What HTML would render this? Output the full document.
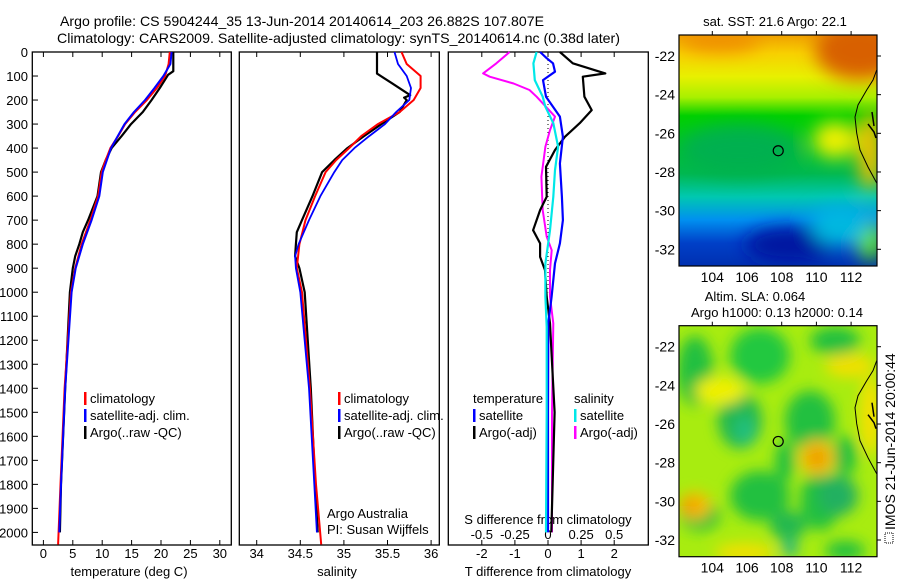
<!DOCTYPE html>
<html><head><meta charset="utf-8"><style>
html,body{margin:0;padding:0;background:#fff;}
svg{display:block;font-family:"Liberation Sans",sans-serif;}
</style></head><body>
<svg id="chart" width="900" height="580" viewBox="0 0 900 580" xmlns="http://www.w3.org/2000/svg">
<defs>
<filter id="bl1" x="-50%" y="-50%" width="200%" height="200%"><feGaussianBlur stdDeviation="9"/></filter>
<filter id="bl2" x="-50%" y="-50%" width="200%" height="200%"><feGaussianBlur stdDeviation="7"/></filter>
<clipPath id="m1c"><rect x="679" y="35" width="198" height="231"/></clipPath>
<clipPath id="m2c"><rect x="679" y="325.7" width="198" height="231"/></clipPath>
<linearGradient id="sstg" x1="0" y1="0" x2="0" y2="1">
<stop offset="0" stop-color="#f0a000"/><stop offset="0.08" stop-color="#f8d000"/><stop offset="0.18" stop-color="#e8f000"/>
<stop offset="0.27" stop-color="#a8f000"/><stop offset="0.35" stop-color="#00d000"/><stop offset="0.6" stop-color="#00b850"/>
<stop offset="0.7" stop-color="#00c8b0"/><stop offset="0.8" stop-color="#0090f0"/><stop offset="0.9" stop-color="#0040c8"/><stop offset="1" stop-color="#0030b0"/>
</linearGradient>
</defs>
<g id="title" font-size="14" fill="#000">
<text x="60" y="26" textLength="484" lengthAdjust="spacingAndGlyphs">Argo profile: CS 5904244_35 13-Jun-2014 20140614_203 26.882S 107.807E</text>
<text x="57" y="43" textLength="563" lengthAdjust="spacingAndGlyphs">Climatology: CARS2009. Satellite-adjusted climatology: synTS_20140614.nc (0.38d later)</text>
</g>
<g id="plots"></g>
<g id="maps"></g>
</svg>
<script>
// ---------- data ----------
const depthLabels = [0,100,200,300,400,500,600,700,800,900,1000,1100,1200,1300,1400,1500,1600,1700,1800,1900,2000];
const tempTicks = [0,5,10,15,20,25,30];
const salTicks = [34,34.5,35,35.5,36];
const salTickLabels = ["34","34.5","35","35.5","36"];
const tdiffTicks = [-2,-1,0,1,2];
const sdiffTicks = [-0.5,-0.25,0,0.25,0.5];
const sdiffTickLabels = ["-0.5","-0.25","0","0.25","0.5"];

const tClimDepth = [0,50,100,150,200,250,300,350,400,450,500,600,700,800,900,1000,1400,1800,2050];
const tClim = [21.5,21.3,20.7,19.3,17.6,15.6,13.9,12.7,11.4,10.6,9.9,9.3,8.0,6.5,5.4,4.7,3.6,2.9,2.5];
const tSatDepth = [0,50,100,150,200,250,300,400,500,600,700,800,900,1000,1400,1800,2000];
const tSat = [21.8,21.6,20.4,18.9,17.3,15.4,13.8,11.5,10.1,9.5,8.2,6.7,5.5,4.8,3.7,3.0,2.7];
const tArgoDepth = [0,80,95,150,200,250,300,350,400,450,500,600,700,750,800,850,900,1000,1400,1800,2000];
const tArgo = [22.1,22.1,21.2,19.8,18.4,16.9,14.9,13.3,11.6,10.6,9.8,9.2,7.6,6.7,6.1,5.4,5.0,4.5,3.7,3.0,2.8];

const sClimDepth = [0,50,100,150,200,250,300,350,400,450,500,600,700,800,900,1000,1400,1800,2050];
const sClim = [35.66,35.72,35.88,35.88,35.80,35.64,35.39,35.20,35.06,34.91,34.79,34.67,34.56,34.49,34.46,34.52,34.61,34.68,34.74];
const sSatDepth = [0,50,100,150,200,250,300,350,400,450,500,600,700,800,850,900,1000,1400,1800,2000];
const sSat = [35.58,35.62,35.72,35.77,35.75,35.60,35.47,35.29,35.12,34.98,34.89,34.73,34.60,34.48,34.44,34.45,34.50,34.60,34.66,34.69];
const sArgoDepth = [0,90,130,180,190,200,250,300,350,400,450,500,600,700,750,800,850,900,1000,1400,1800,2000];
const sArgo = [35.38,35.38,35.55,35.76,35.69,35.72,35.64,35.43,35.23,35.04,34.89,34.75,34.64,34.52,34.46,34.45,34.44,34.49,34.55,34.62,34.67,34.70];

const dTSatDepth = [0,26,47,82,117,186,269,353,464,603,700,797,880,1019,1130,1500,2000];
const dTSat = [-0.24,-0.04,0.15,0.21,-0.15,-0.06,0.36,0.45,0.36,0.42,0.45,0.36,0.21,0.11,0.01,0.0,0.0];
const dTArgoDepth = [0,47,89,103,186,242,296,353,408,478,603,658,742,797,853,908,1019,1130,1500,2000];
const dTArgo = [0.36,0.75,1.73,1.05,1.1,1.32,0.96,0.51,0.21,-0.06,-0.04,-0.24,-0.45,-0.24,-0.24,-0.09,-0.04,0.06,0.2,0.1];
const dSSatDepth = [0,47,117,186,228,296,394,492,603,742,880,1019,1144,1500,2000];
const dSSat = [-0.086,-0.11,-0.1,-0.04,-0.02,0.04,0.076,0.053,0.04,0.015,-0.02,-0.02,-0.01,-0.01,-0.015];
const dSArgoDepth = [0,47,89,103,131,158,186,269,325,394,519,658,769,825,908,1019,1130,1500,2000];
const dSArgo = [-0.29,-0.39,-0.49,-0.44,-0.26,-0.14,-0.086,0.053,0.015,-0.02,-0.05,-0.04,-0.01,0.028,0.015,0.015,0.04,0.03,0.03];

const mapLatTicks = [22,24,26,28,30,32];
const mapLonTicks = [104,106,108,110,112];
const argoLon = 107.8, argoLat = 26.9;

// ---------- helpers ----------
const NS = "http://www.w3.org/2000/svg";
function mk(tag, attrs, parent){ const e=document.createElementNS(NS,tag); for(const k in attrs) e.setAttribute(k,attrs[k]); parent.appendChild(e); return e; }
const plots = document.getElementById('plots');
const maps = document.getElementById('maps');
const TOP=52, BOT=545;
const yD = d => TOP + 0.2402*d;
const xT = t => 43.4 + 5.88*t;
const xS = s => 256.7 + 87.2*(s-34);
const xdT = v => 548 + 33.1*v;
const xdS = v => 548 + 132.4*v;

function panel(name, x0, x1){
  const r = mk('rect',{x:x0,y:TOP,width:x1-x0,height:BOT-TOP,fill:'none',stroke:'#000','stroke-width':1.3},plots);
  
  
}
panel('temperature-panel',32.3,231.3);
panel('salinity-panel',239.3,439.3);
panel('difference-panel',448.3,648.3);

const yax = mk('g',{'font-size':13,'text-anchor':'end'},plots);


depthLabels.forEach(d=>{
  const t = mk('text',{x:28,y:yD(d)+5},yax); t.textContent = d;
  mk('line',{x1:32,x2:38,y1:yD(d),y2:yD(d),stroke:'#000'},yax);
});

function xaxis(name, ticks, labels, fx, title, tx){
  const g = mk('g',{'font-size':13,'text-anchor':'middle'},plots);
  
  
  ticks.forEach((v,i)=>{
    const x = fx(v);
    mk('line',{x1:x,x2:x,y1:BOT,y2:BOT-5,stroke:'#000'},g);
    mk('line',{x1:x,x2:x,y1:TOP,y2:TOP+5,stroke:'#000'},g);
    const t = mk('text',{x:x,y:558},g); t.textContent = labels[i];
  });
  const tt = mk('text',{x:tx,y:576},g); tt.textContent = title;
}
xaxis('x-axis-temperature', tempTicks, tempTicks.map(String), xT, 'temperature (deg C)', 129);
xaxis('x-axis-salinity', salTicks, salTickLabels, xS, 'salinity', 337);
xaxis('x-axis-t-difference', tdiffTicks, tdiffTicks.map(String), xdT, 'T difference from climatology', 548);
const sg = mk('g',{'font-size':13,'text-anchor':'middle'},plots);


sdiffTicks.forEach((v,i)=>{ const t=mk('text',{x:xdS(v),y:539},sg); t.textContent=sdiffTickLabels[i]; });
const st = mk('text',{x:548,y:524},sg); st.textContent='S difference from climatology';

function line(name, depths, vals, fx, color, w){
  const pts = depths.map((d,i)=> fx(vals[i]).toFixed(1)+','+yD(d).toFixed(1)).join(' ');
  const p = mk('polyline',{points:pts,fill:'none',stroke:color,'stroke-width':w,'stroke-linejoin':'round'},plots);
  
  
}
line('temp-argo', tArgoDepth, tArgo, xT, '#000', 2.2);
line('temp-climatology', tClimDepth, tClim, xT, '#ff0000', 2);
line('temp-satellite', tSatDepth, tSat, xT, '#0000ff', 2);
line('sal-argo', sArgoDepth, sArgo, xS, '#000', 2.2);
line('sal-climatology', sClimDepth, sClim, xS, '#ff0000', 2);
line('sal-satellite', sSatDepth, sSat, xS, '#0000ff', 1.8);
const zl = mk('line',{x1:548,x2:548,y1:TOP,y2:yD(1000),stroke:'#000','stroke-dasharray':'1,3'},plots);


line('s-diff-argo', dSArgoDepth, dSArgo, xdS, '#ff00ff', 2);
line('t-diff-argo', dTArgoDepth, dTArgo, xdT, '#000', 2.2);
line('t-diff-satellite', dTSatDepth, dTSat, xdT, '#0000ff', 2.2);
line('s-diff-satellite', dSSatDepth, dSSat, xdS, '#00e8e8', 2.2);

function legend(name, x, y, items){
  const g = mk('g',{'font-size':13},plots);
  
  
  items.forEach((it,i)=>{
    const yy = y + i*17;
    if(it[0]) mk('rect',{x:x,y:yy-11,width:2.5,height:13,fill:it[0]},g);
    const t = mk('text',{x:x+(it[0]?6:0),y:yy},g); t.textContent = it[1];
  });
}
legend('legend-temperature',84,403,[['#ff0000','climatology'],['#0000ff','satellite-adj. clim.'],['#000','Argo(..raw -QC)']]);
legend('legend-salinity',338,403,[['#ff0000','climatology'],['#0000ff','satellite-adj. clim.'],['#000','Argo(..raw -QC)']]);
legend('legend-t-diff',473,403,[[null,' temperature'],['#0000ff','satellite'],['#000','Argo(-adj)']]);
legend('legend-s-diff',574,403,[[null,'  salinity'],['#00e8e8','satellite'],['#ff00ff','Argo(-adj)']]);
const cr = mk('g',{'font-size':13},plots);


mk('text',{x:327,y:518},cr).textContent='Argo Australia';
mk('text',{x:327,y:534},cr).textContent='PI: Susan Wijffels';

// ---------- maps ----------
const lonX = l => 712.3 + (l-104)*17.35;
function map(name, oy, kind){
  const latY = L => oy + 56 + (L-22)*19.33;
  const g = mk('g',{},maps);
  
  
  const c = mk('g',{'clip-path':'url(#'+(kind==='sst'?'m1c':'m2c')+')'},g);
  if(kind==='sst'){
    mk('rect',{x:679,y:oy+35,width:198,height:231,fill:'url(#sstg)'},c);
    const b = mk('g',{filter:'url(#bl1)'},c);
    mk('ellipse',{cx:860,cy:oy+50,rx:45,ry:30,fill:'#d86000'},b);
    mk('ellipse',{cx:720,cy:oy+40,rx:40,ry:12,fill:'#f09000'},b);
    mk('ellipse',{cx:835,cy:oy+140,rx:22,ry:18,fill:'#f0f000'},b);
    mk('ellipse',{cx:870,cy:oy+150,rx:12,ry:40,fill:'#f8c000'},b);
    mk('ellipse',{cx:740,cy:oy+150,rx:60,ry:25,fill:'#00b050'},b);
    mk('ellipse',{cx:870,cy:oy+240,rx:15,ry:20,fill:'#60e000'},b);
    mk('ellipse',{cx:790,cy:oy+245,rx:45,ry:18,fill:'#0018a0'},b);
    mk('ellipse',{cx:840,cy:oy+225,rx:30,ry:20,fill:'#00b8e0'},b);
  } else {
    mk('rect',{x:679,y:oy+35,width:198,height:231,fill:'#a8ec10'},c);
    const b = mk('g',{filter:'url(#bl2)'},c);
    [[695,80,18,35,'#20c040'],[760,65,30,28,'#20c840'],[835,50,25,14,'#20c040'],[740,130,22,28,'#20b850'],
     [745,140,10,14,'#20c080'],[810,130,25,30,'#20c040'],[785,170,10,20,'#20c040'],[760,205,30,25,'#20c040'],
     [700,225,20,15,'#20c040'],[820,210,20,30,'#20c040'],[845,165,12,20,'#20c040'],[838,205,20,20,'#20b060'],
     [788,235,18,15,'#20b850'],[790,258,8,8,'#20b090'],[845,260,20,10,'#20c040']].forEach(e=>mk('ellipse',{cx:e[0],cy:oy+e[1],rx:e[2],ry:e[3],fill:e[4]},b));
    [[720,100,25,14,'#f0f000'],[850,75,25,12,'#f0e000'],[695,215,16,14,'#f8c000'],[690,215,10,8,'#f0a000'],
     [817,167,18,18,'#f8c000'],[817,167,8,9,'#e89000'],[745,262,30,10,'#f0e000'],[870,125,10,40,'#f8e000']].forEach(e=>mk('ellipse',{cx:e[0],cy:oy+e[1],rx:e[2],ry:e[3],fill:e[4]},b));
  }
  const cpts = [[876.7,70],[873,80],[866.7,90],[858,105],[855,117],[856.7,133],[860,150],[868,167],[876.7,183]].map(p=>p[0]+','+(p[1]+oy)).join(' ');
  mk('polyline',{points:cpts,fill:'none',stroke:'#000','stroke-width':1},c);
  mk('path',{d:`M872 ${oy+112} l2 14 M868 ${oy+124} l6 8 l2 6`,fill:'none',stroke:'#000','stroke-width':1.5},c);
  mk('rect',{x:679,y:oy+35,width:198,height:231,fill:'none',stroke:'#000','stroke-width':1.2},g);
  const circ = mk('circle',{cx:lonX(argoLon),cy:latY(argoLat),r:5,fill:'none',stroke:'#000','stroke-width':1.2},g);
  
  
  const ax = mk('g',{'font-size':14},g);
  mapLatTicks.forEach(L=>{
    const t = mk('text',{x:675,y:latY(L)+5,'text-anchor':'end'},ax); t.textContent='-'+L;
    mk('line',{x1:877,x2:881,y1:latY(L),y2:latY(L),stroke:'#000'},ax);
  });
  mapLonTicks.forEach(l=>{
    const t = mk('text',{x:lonX(l),y:oy+282,'text-anchor':'middle'},ax); t.textContent=l;
    mk('line',{x1:lonX(l),x2:lonX(l),y1:oy+35,y2:oy+31,stroke:'#000'},ax);
  });
}
map('sst-map',0,'sst');
map('sla-map',290.7,'sla');
const mt = mk('g',{'font-size':13,'text-anchor':'middle'},maps);


mk('text',{x:775,y:26},mt).textContent='sat. SST: 21.6 Argo: 22.1';
mk('text',{x:755,y:301},mt).textContent='Altim. SLA: 0.064';
mk('text',{x:777,y:317},mt).textContent='Argo h1000: 0.13 h2000: 0.14';
const im = mk('g',{},maps);


mk('rect',{x:885,y:533,width:8,height:10,fill:'none',stroke:'#000','stroke-dasharray':'1,1'},im);
const it = mk('text',{x:0,y:0,'font-size':14,transform:'translate(895,530) rotate(-90)'},im);
it.textContent='IMOS 21-Jun-2014 20:00:44';
</script>
</body></html>
